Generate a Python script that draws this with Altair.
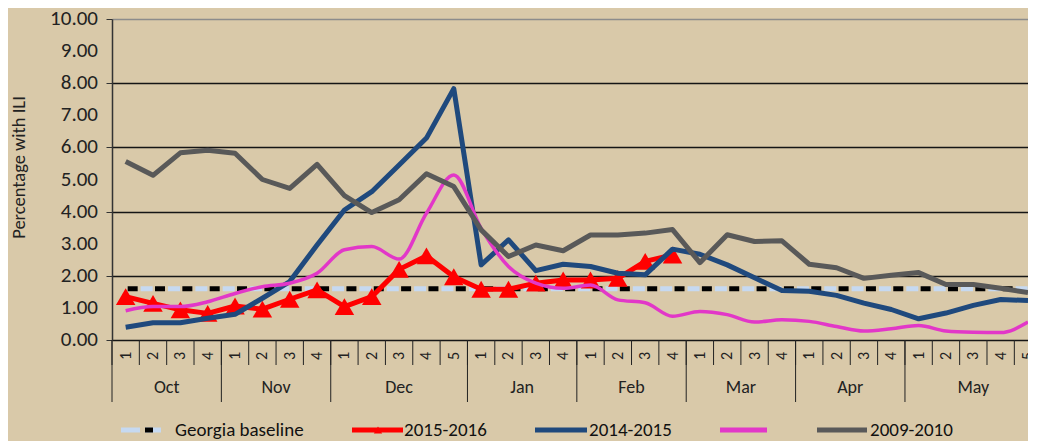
import altair as alt
import pandas as pd

# ---------------- data ----------------
months = ["Oct", "Nov", "Dec", "Jan", "Feb", "Mar", "Apr", "May"]
weeks_in_month = [4, 4, 5, 4, 4, 4, 4, 5]
y_ticks = [0, 1, 2, 3, 4, 5, 6, 7, 8, 9, 10]

georgia_baseline = 1.60

season_2015_16 = [1.35, 1.14, 0.94, 0.83, 1.06, 0.96, 1.27, 1.56, 1.04, 1.35, 2.20,
                  2.62, 1.97, 1.58, 1.58, 1.77, 1.87, 1.87, 1.92, 2.45, 2.65]
season_2014_15 = [0.40, 0.54, 0.54, 0.68, 0.80, 1.30, 1.82, 2.96, 4.05, 4.62, 5.45,
                  6.29, 7.83, 2.34, 3.12, 2.16, 2.36, 2.29, 2.08, 2.03, 2.83, 2.67,
                  2.34, 1.94, 1.54, 1.52, 1.39, 1.15, 0.95, 0.66, 0.84, 1.08, 1.26,
                  1.23]
season_unlabeled = [0.91, 1.04, 1.04, 1.19, 1.45, 1.66, 1.77, 2.08, 2.81, 2.91, 2.52,
                    3.95, 5.14, 3.48, 2.29, 1.77, 1.61, 1.71, 1.25, 1.16, 0.74, 0.89,
                    0.79, 0.56, 0.63, 0.58, 0.42, 0.28, 0.35, 0.45, 0.28, 0.24, 0.23,
                    0.56]
season_2009_10 = [5.56, 5.13, 5.83, 5.91, 5.82, 5.00, 4.72, 5.47, 4.50, 3.97, 4.37,
                  5.18, 4.78, 3.43, 2.60, 2.96, 2.78, 3.27, 3.27, 3.33, 3.44, 2.41,
                  3.28, 3.07, 3.09, 2.36, 2.25, 1.92, 2.02, 2.10, 1.73, 1.73, 1.61,
                  1.48]

# ---------------- derived tables ----------------
week_rows = []
month_rows = []
idx = 0
for m, n in zip(months, weeks_in_month):
    month_rows.append({"month": m, "start": idx, "mid": idx + n / 2})
    for w in range(1, n + 1):
        week_rows.append({"pos": idx + 0.5, "week": str(w), "bound": idx})
        idx += 1
weeks = pd.DataFrame(week_rows)
month_df = pd.DataFrame(month_rows)
tick_df = pd.DataFrame({"value": y_ticks, "label": [f"{v:.2f}" for v in y_ticks]})


def series_df(values):
    return pd.DataFrame({"pos": weeks["pos"][: len(values)].values, "value": values})


base_df = pd.DataFrame({"pos": weeks["pos"].values, "value": georgia_baseline})

FONT = "Carlito, Liberation Sans Narrow, Open Sans, sans-serif"
BG = "#d9c9a9"
W = 916
H = 321
BAND = W / 33.5

xs = alt.Scale(domain=[0, 33.5], nice=False, zero=False)
ys = alt.Scale(domain=[0, 10], nice=False)
X = alt.X("pos:Q", scale=xs, axis=None)
Y = alt.Y("value:Q", scale=ys,
          axis=alt.Axis(values=y_ticks, labels=False, title="Percentage with ILI",
                        tickSize=6, tickColor="#333", domainColor="#333",
                        domainWidth=1.5, grid=True,
                        gridColor=alt.condition("datum.value == 10",
                                                alt.value("#8c8c8c"),
                                                alt.value("#151515")),
                        gridWidth=1.3,
                        titleFont=FONT, titleFontSize=18.5, titleFontWeight="normal",
                        titleColor="#222", titleAngle=-90, titleX=-94, titleY=148,
                        titleAlign="center", titleBaseline="middle"))

baseline_blue = alt.Chart(base_df).mark_line(
    color="#c6d9f1", strokeWidth=5, strokeDash=[12, BAND - 12], strokeDashOffset=-15,
    strokeCap="butt").encode(x=X, y=Y)
baseline_black = alt.Chart(base_df).mark_line(
    color="#000000", strokeWidth=5, strokeDash=[10, BAND - 10], strokeDashOffset=-2,
    strokeCap="butt").encode(x=X, y=alt.Y("value:Q", scale=ys))

y_labels = alt.Chart(tick_df).mark_text(
    font=FONT, fontSize=21, color="#222", align="right", baseline="middle").encode(
    x=alt.value(-14), y=alt.Y("value:Q", scale=ys), text="label:N")

red_line = alt.Chart(series_df(season_2015_16)).mark_line(
    color="#ff0000", strokeWidth=5, strokeJoin="round").encode(x=X, y="value:Q")
red_pts = alt.Chart(series_df(season_2015_16)).mark_point(
    shape="triangle-up", filled=True, color="#ff0000", opacity=1, size=380).encode(
    x=X, y="value:Q")
blue_line = alt.Chart(series_df(season_2014_15)).mark_line(
    color="#1f497d", strokeWidth=5, strokeJoin="round").encode(x=X, y="value:Q")
pink_line = alt.Chart(series_df(season_unlabeled)).mark_line(
    color="#e237c8", strokeWidth=3.5, interpolate="monotone").encode(x=X, y="value:Q")
gray_line = alt.Chart(series_df(season_2009_10)).mark_line(
    color="#595959", strokeWidth=5, strokeJoin="round").encode(x=X, y="value:Q")

# ---------------- category axis (weeks + months) ----------------
week_sep = alt.Chart(weeks).mark_rule(color="#222", strokeWidth=1).encode(
    x=alt.X("bound:Q", scale=xs), y=alt.value(H), y2=alt.value(H + 25))
month_sep = alt.Chart(month_df).mark_rule(color="#222", strokeWidth=1).encode(
    x=alt.X("start:Q", scale=xs), y=alt.value(H), y2=alt.value(H + 62))
week_txt = alt.Chart(weeks).mark_text(
    angle=270, font=FONT, fontSize=16, color="#222", align="center",
    baseline="middle").encode(x=alt.X("pos:Q", scale=xs), y=alt.value(H + 16),
                              text="week:N")
month_txt = alt.Chart(month_df).mark_text(
    font=FONT, fontSize=18, color="#222", align="center", baseline="middle").encode(
    x=alt.X("mid:Q", scale=xs), y=alt.value(H + 48), text="month:N")

# ---------------- legend (drawn by hand) ----------------
LY = 411


def leg_line(x1, x2, color, width, dash=None):
    kw = dict(color=color, strokeWidth=width, strokeCap="butt")
    if dash:
        kw["strokeDash"] = dash
    return alt.Chart(base_df.head(1)).mark_rule(**kw).encode(
        x=alt.value(x1), x2=alt.value(x2), y=alt.value(LY))


def leg_text(x, label):
    return alt.Chart(base_df.head(1)).mark_text(
        text=label, font=FONT, fontSize=19, color="#111", align="left",
        baseline="middle").encode(x=alt.value(x), y=alt.value(LY))


legend_layers = [
    leg_line(9, 49, "#c6d9f1", 5, [19, 5]),
    leg_line(33, 41, "#000000", 5),
    leg_text(63, "Georgia baseline"),
    leg_line(240, 291, "#ff0000", 5),
    alt.Chart(base_df.head(1)).mark_point(shape="triangle-up", filled=True,
                                          color="#ff0000", opacity=1, size=70).encode(
        x=alt.value(266), y=alt.value(LY)),
    leg_text(292, "2015-2016"),
    leg_line(423, 475, "#1f497d", 5),
    leg_text(477, "2014-2015"),
    leg_line(608, 655, "#e237c8", 5),
    leg_line(705, 755, "#595959", 5),
    leg_text(758, "2009-2010"),
]

chart = alt.layer(
    baseline_blue, baseline_black, y_labels, red_line, red_pts, blue_line, pink_line,
    gray_line, week_sep, month_sep, week_txt, month_txt, *legend_layers
).properties(
    width=W, height=H,
    autosize=alt.AutoSizeParams(type="none"),
    padding={"left": 104, "top": 11, "right": 0, "bottom": 101},
).configure(background=BG).configure_view(stroke=None)

chart.save("out.html", embed_options={"renderer": "svg", "actions": False})
